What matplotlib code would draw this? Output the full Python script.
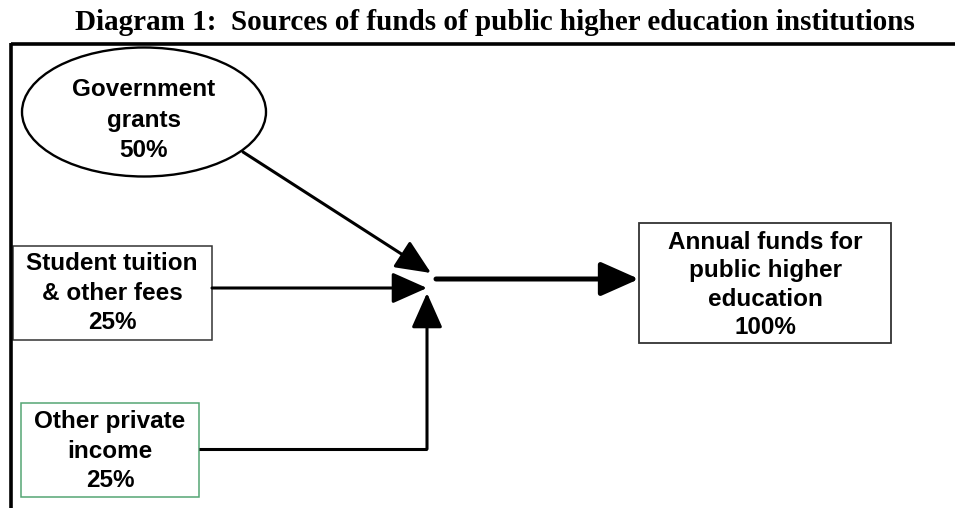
import numpy as np
import matplotlib
matplotlib.use('Agg')
import matplotlib.pyplot as plt
from matplotlib.patches import Ellipse, Rectangle

# Diagram of where public higher education money comes from.

title = 'Diagram 1:  Sources of funds of public higher education institutions'
source_names = ['Government\ngrants', 'Student tuition\n& other fees', 'Other private\nincome']
source_shares = [50, 25, 25]
target_name = 'Annual funds for\npublic higher\neducation'
target_share = sum(source_shares)

box_font = ['Liberation Sans', 'DejaVu Sans']
fs = 17.5

fig = plt.figure(figsize=(9.55, 5.08), dpi=100)
ax = fig.add_axes([0, 0, 1, 1])
ax.set_xlim(0, 955)
ax.set_ylim(508, 0)  # pixel-like coordinates, y down
ax.axis('off')

fig.text(495 / 955, 1 - 23 / 508, title, ha='center', va='center',
         fontsize=21, fontweight='bold', family=['Liberation Serif', 'DejaVu Serif'])

# frame lines on top and left
ax.plot([11, 955], [44, 44], color='black', lw=2.6, solid_capstyle='butt')
ax.plot([11, 11], [43, 508], color='black', lw=2.6, solid_capstyle='butt')


def label(x, y, name, share, ls=1.35):
    ax.text(x, y, name + '\n' + str(share) + '%', ha='center', va='center',
            fontsize=fs, fontweight='bold', family=box_font, linespacing=ls)


def arrow(start, tip, lw=2.2, scale=24):
    ax.annotate('', xy=tip, xytext=start,
                arrowprops=dict(arrowstyle='-|>,head_length=0.9,head_width=0.4',
                                lw=lw, color='black', mutation_scale=scale,
                                shrinkA=0, shrinkB=0))


# government grants ellipse
ax.add_patch(Ellipse((144, 112), 244, 129, fill=False, ec='black', lw=1.7))
label(144, 120, source_names[0], source_shares[0], ls=1.44)

# student tuition box
ax.add_patch(Rectangle((13, 246), 199, 94, fill=False, ec='#333333', lw=1.1))
label(112, 293, source_names[1], source_shares[1])

# other private income box (green outline)
ax.add_patch(Rectangle((21, 403), 178, 94, fill=False, ec='#55a574', lw=1.1))
label(110, 451, source_names[2], source_shares[2])

# target box
ax.add_patch(Rectangle((639, 223), 252, 120, fill=False, ec='#333333', lw=1.3))
label(765, 285, target_name, target_share, ls=1.31)

# arrows into the merge point
arrow((243, 152), (431, 273))
arrow((212, 288), (427, 288))
ax.plot([199, 427], [449, 449], color='black', lw=2.2, solid_capstyle='butt')
arrow((427, 449), (427, 293))

# merged flow to the total
arrow((436, 279), (639, 279), lw=3.6, scale=26)

plt.savefig('out.png', dpi=100)
plt.close()
